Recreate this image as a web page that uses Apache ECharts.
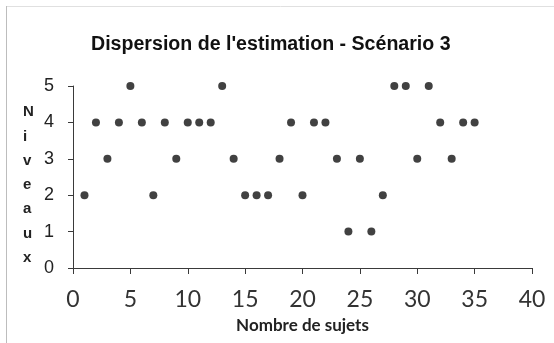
<!DOCTYPE html>
<html>
<head>
<meta charset="utf-8">
<script src="https://cdn.jsdelivr.net/npm/echarts@6/dist/echarts.min.js"></script>
<style>
  html, body { margin: 0; padding: 0; background: #fff; }
  #chart { width: 554px; height: 343px; }
</style>
</head>
<body>
<div id="chart"></div>
<script>
// Subject numbers (x) and the level estimated for each (y)
const sujets = [1, 2, 3, 4, 5, 6, 7, 8, 9, 10, 11, 12, 13, 14, 15, 16, 17, 18,
                19, 20, 21, 22, 23, 24, 25, 26, 27, 28, 29, 30, 31, 32, 33, 34, 35];
const niveaux = [2, 4, 3, 4, 5, 4, 2, 4, 3, 4, 4, 4, 5, 3, 2, 2, 2, 3,
                 4, 2, 4, 4, 3, 1, 3, 1, 2, 5, 5, 3, 5, 4, 3, 4, 4];

const titre = "Dispersion de l'estimation - Scénario 3";
const nomX = 'Nombre de sujets';
const nomY = 'Niveaux';

const chart = echarts.init(document.getElementById('chart'), null, { renderer: 'canvas' });

const axisColor = '#3a3a3a';

chart.setOption({
  animation: false,
  backgroundColor: '#fff',
  title: {
    text: titre,
    left: 86,
    top: 30,
    textStyle: { fontFamily: 'Liberation Sans, Arial, sans-serif', fontWeight: 'bold', fontSize: 19.6, color: '#111' }
  },
  grid: { left: 73, right: 22, top: 86, bottom: 75, containLabel: false },
  xAxis: {
    type: 'value',
    min: 0, max: 40, interval: 5,
    name: nomX,
    nameLocation: 'middle',
    nameGap: 49,
    nameTextStyle: { fontFamily: 'Lato, sans-serif', fontWeight: 'bold', fontSize: 17, color: '#222' },
    axisLine: { show: true, lineStyle: { color: axisColor, width: 1 } },
    axisTick: { show: true, inside: false, length: 6, lineStyle: { color: axisColor } },
    axisLabel: { margin: 20, fontFamily: 'Lato, sans-serif', fontSize: 23, color: '#333' },
    splitLine: { show: false }
  },
  yAxis: {
    type: 'value',
    min: 0, max: 5, interval: 1,
    axisLine: { show: true, lineStyle: { color: axisColor, width: 1 } },
    axisTick: { show: true, inside: false, length: 5, lineStyle: { color: axisColor } },
    axisLabel: { margin: 19, fontFamily: 'Liberation Sans, Arial, sans-serif', fontSize: 18, color: '#222' },
    splitLine: { show: false }
  },
  series: [{
    type: 'scatter',
    data: sujets.map((s, i) => [s, niveaux[i]]),
    symbol: 'circle',
    symbolSize: 8,
    itemStyle: { color: '#111' }
  }],
  graphic: [
    // y-axis title, one letter per line
    {
      type: 'text',
      left: 23, top: 100,
      style: {
        text: nomY.split('').join('\n'),
        align: 'center',
        lineHeight: 24.3,
        font: 'bold 15px "Liberation Sans", Arial, sans-serif',
        fill: '#222'
      }
    },
    { type: 'line', shape: { x1: 6.5, y1: 6, x2: 6.5, y2: 343 }, style: { stroke: '#bdbdbd', lineWidth: 1 } },
    { type: 'line', shape: { x1: 7, y1: 6.5, x2: 554, y2: 6.5 }, style: { stroke: '#e0e0e0', lineWidth: 1 } }
  ]
});
</script>
</body>
</html>
